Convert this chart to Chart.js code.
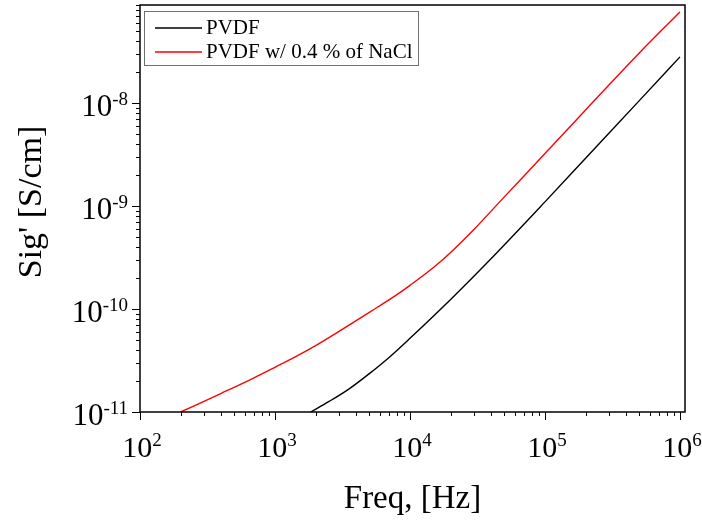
<!DOCTYPE html>
<html>
<head>
<meta charset="utf-8">
<script src="https://cdn.jsdelivr.net/npm/chart.js@4.4.0/dist/chart.umd.min.js"></script>
<style>
  html, body { margin: 0; padding: 0; background: #fff; }
</style>
</head>
<body>
<canvas id="sigChart" width="702" height="523"></canvas>
<script>
// PVDF
const pvdfFreq = [1840, 2500, 3500, 5000, 7000, 10000, 20000, 40000, 100000, 200000, 500000, 1000000];
const pvdfSig = [1.0e-11, 1.26e-11, 1.66e-11, 2.36e-11, 3.39e-11, 5.2e-11, 1.24e-10, 3.1e-10, 1.1e-9, 2.92e-9, 1.06e-8, 2.82e-8];

// PVDF w/ 0.4 % of NaCl
const naclFreq = [200, 400, 700, 1000, 1400, 2000, 3000, 5000, 8000, 10000, 15000, 20000, 30000, 50000, 100000, 200000, 500000, 1000000];
const naclSig = [1.0e-11, 1.52e-11, 2.15e-11, 2.72e-11, 3.41e-11, 4.42e-11, 6.1e-11, 9.29e-11, 1.38e-10, 1.70e-10, 2.55e-10, 3.55e-10, 6.0e-10, 1.23e-9, 3.24e-9, 8.61e-9, 3.08e-8, 7.69e-8];

const seriesLabels = ['PVDF', 'PVDF w/ 0.4 % of NaCl'];

// 軸の目盛り（10のべき）
const xTickExps = [2, 3, 4, 5, 6];
const yTickExps = [-11, -10, -9, -8];

const xTitle = 'Freq, [Hz]';
const yTitle = "Sig' [S/cm]";

const SERIF = '"Liberation Serif", "Times New Roman", serif';

function toPoints(xs, ys) {
    return xs.map((x, i) => ({ x: x, y: ys[i] }));
}

// 10^n ラベルを描く
function drawPow(ctx, exp, x, y, align, size) {
    const base = '10';
    const sup = String(exp);
    ctx.font = size + 'px ' + SERIF;
    const bw = ctx.measureText(base).width;
    ctx.font = '19px ' + SERIF;
    const sw = ctx.measureText(sup).width;
    let startX;
    if (align === 'right') startX = x - bw - sw;
    else startX = x - (bw + sw) / 2 + 2;
    ctx.textAlign = 'left';
    ctx.textBaseline = 'alphabetic';
    ctx.font = size + 'px ' + SERIF;
    ctx.fillText(base, startX, y);
    ctx.font = '19px ' + SERIF;
    ctx.fillText(sup, startX + bw, y - 11);
}

// 枠・目盛り・ラベル・凡例
const framePlugin = {
    id: 'framePlugin',
    afterDraw(chart) {
        const ctx = chart.ctx;
        const { left, right, top, bottom } = chart.chartArea;
        const xs = chart.scales.x;
        const ys = chart.scales.y;
        ctx.save();
        ctx.strokeStyle = '#000';
        ctx.fillStyle = '#000';

        // minor / major ticks
        ctx.lineWidth = 1;
        ctx.beginPath();
        for (let e = 2; e <= 6; e++) {
            for (let m = 1; m <= 9; m++) {
                const v = m * Math.pow(10, e);
                if (v < xs.min || v > xs.max) continue;
                const px = Math.round(xs.getPixelForValue(v)) + 0.5;
                const len = m === 1 ? 8 : 4;
                ctx.moveTo(px, bottom);
                ctx.lineTo(px, bottom + len);
            }
        }
        for (let e = -11; e <= -8; e++) {
            for (let m = 1; m <= 9; m++) {
                const v = m * Math.pow(10, e);
                if (v < ys.min * 0.999 || v > ys.max * 1.001) continue;
                const py = Math.round(ys.getPixelForValue(v)) + 0.5;
                const len = m === 1 ? 8 : 4;
                ctx.moveTo(left, py);
                ctx.lineTo(left - len, py);
            }
        }
        ctx.stroke();

        // frame
        ctx.lineWidth = 1.5;
        ctx.strokeRect(left, top, right - left, bottom - top);

        // tick labels
        xTickExps.forEach(e => {
            const px = xs.getPixelForValue(Math.pow(10, e));
            drawPow(ctx, e, px, 457, 'center', 30);
        });
        yTickExps.forEach(e => {
            const py = ys.getPixelForValue(Math.pow(10, e));
            drawPow(ctx, e, 128, py + 13, 'right', 31);
        });

        // axis titles
        ctx.font = '33px ' + SERIF;
        ctx.textAlign = 'center';
        ctx.textBaseline = 'alphabetic';
        ctx.fillText(xTitle, (left + right) / 2, 508);
        ctx.save();
        ctx.translate(41, 202);
        ctx.rotate(-Math.PI / 2);
        ctx.font = '34px ' + SERIF;
        ctx.fillText(yTitle, 0, 0);
        ctx.restore();

        // legend
        ctx.lineWidth = 1;
        ctx.strokeStyle = '#707070';
        ctx.strokeRect(144.5, 11.5, 274, 54);
        ctx.font = '21px ' + SERIF;
        ctx.textAlign = 'left';
        chart.data.datasets.forEach((ds, i) => {
            const ly = 28 + i * 24;
            ctx.strokeStyle = ds.borderColor;
            ctx.lineWidth = 1.4;
            ctx.beginPath();
            ctx.moveTo(155, ly);
            ctx.lineTo(202, ly);
            ctx.stroke();
            ctx.fillStyle = '#000';
            ctx.fillText(ds.label, 206, ly + 6);
        });
        ctx.restore();
    }
};

new Chart(document.getElementById('sigChart').getContext('2d'), {
    type: 'line',
    data: {
        datasets: [
            {
                label: seriesLabels[0],
                data: toPoints(pvdfFreq, pvdfSig),
                borderColor: '#000000',
                borderWidth: 1.4,
                pointRadius: 0,
                cubicInterpolationMode: 'monotone',
                fill: false
            },
            {
                label: seriesLabels[1],
                data: toPoints(naclFreq, naclSig),
                borderColor: '#ff0000',
                borderWidth: 1.4,
                pointRadius: 0,
                cubicInterpolationMode: 'monotone',
                fill: false
            }
        ]
    },
    options: {
        responsive: false,
        animation: false,
        devicePixelRatio: 1,
        layout: { padding: { left: 140, right: 17, top: 5, bottom: 111 } },
        scales: {
            x: { type: 'logarithmic', min: 100, max: 1.09e6, display: false },
            y: { type: 'logarithmic', min: 1e-11, max: 9e-8, display: false }
        },
        plugins: {
            legend: { display: false },
            tooltip: { enabled: false }
        }
    },
    plugins: [framePlugin]
});
</script>
</body>
</html>
